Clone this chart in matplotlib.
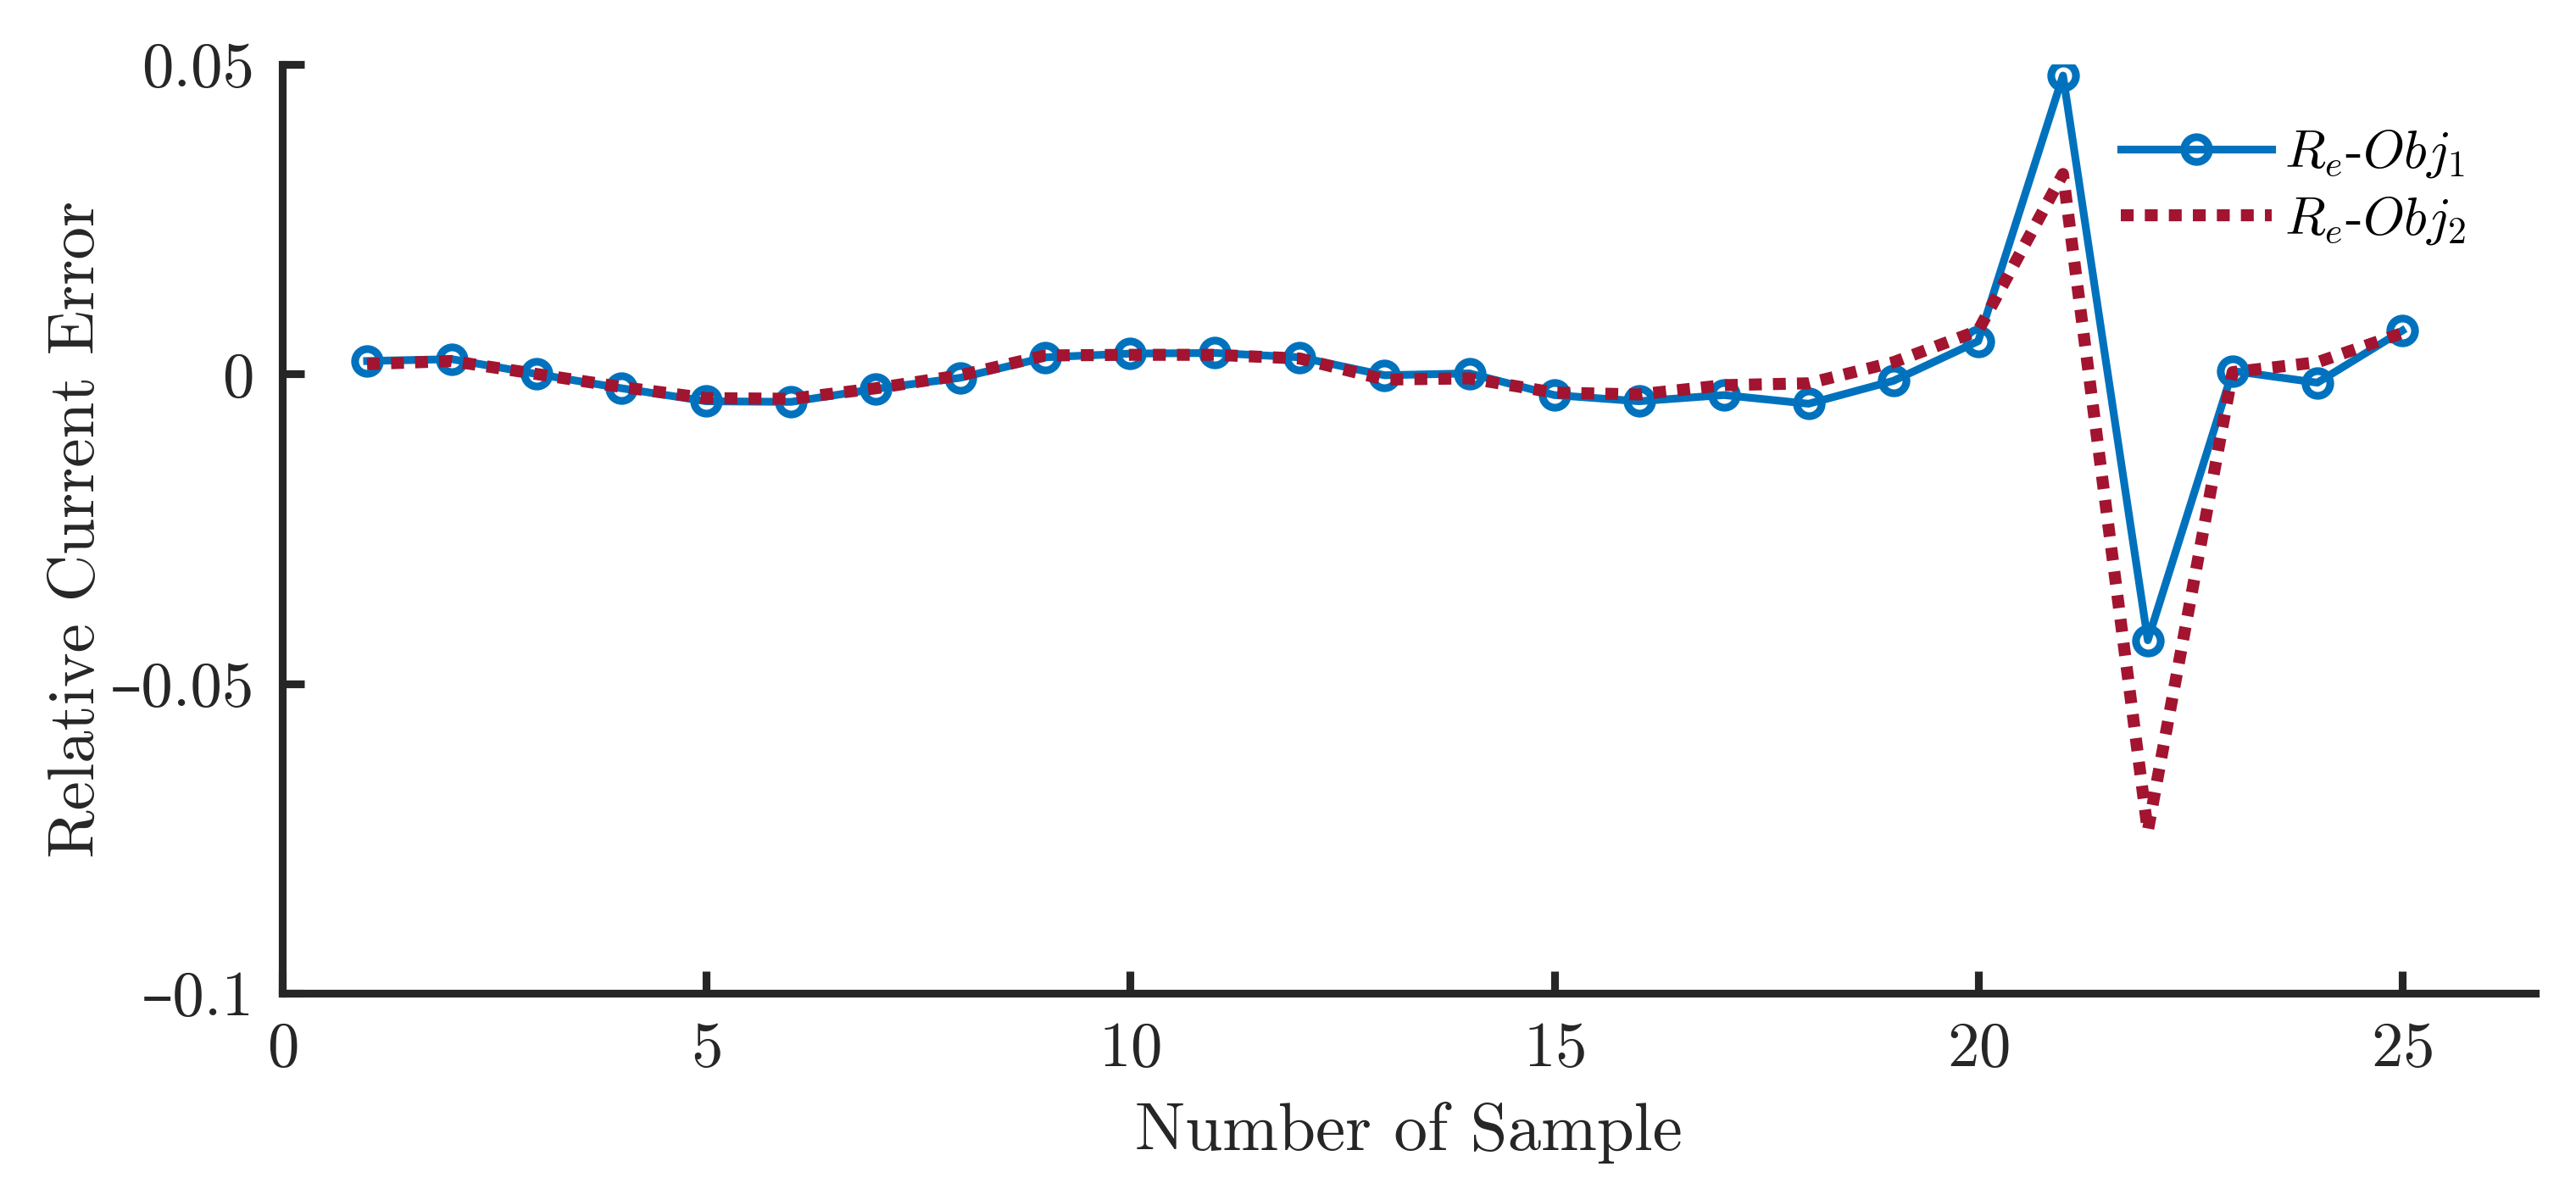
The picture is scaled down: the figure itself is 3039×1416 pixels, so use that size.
import numpy as np
import matplotlib
matplotlib.use("Agg")
import matplotlib.pyplot as plt

plt.rcParams['font.family'] = 'serif'
plt.rcParams['font.serif'] = ['cmr10']
plt.rcParams['mathtext.fontset'] = 'cm'
plt.rcParams['axes.formatter.use_mathtext'] = True

# datos
muestras = np.arange(1, 26)
obj1 = [0.0021, 0.0024, 0.0000, -0.0023, -0.0044, -0.0045, -0.0024, -0.0006, 0.0027, 0.0033,
        0.0034, 0.0027, -0.0002, 0.0001, -0.0034, -0.0044, -0.0034, -0.0048, -0.0011, 0.0053,
        0.0482, -0.0430, 0.0005, -0.0014, 0.0070]
obj2 = [0.0016, 0.0021, 0.0000, -0.0021, -0.0039, -0.0040, -0.0023, -0.0002, 0.0030, 0.0031,
        0.0031, 0.0025, -0.0009, -0.0007, -0.0030, -0.0033, -0.0018, -0.0015, 0.0019, 0.0070,
        0.0323, -0.0738, 0.0003, 0.0019, 0.0066]
etiquetas = [r'$R_e$-$Obj_1$', r'$R_e$-$Obj_2$']

yticks = [-0.1, -0.05, 0, 0.05]
ytick_labels = ['\u20130.1', '\u20130.05', '0', '0.05']
xticks = [0, 5, 10, 15, 20, 25]

azul = '#0072BD'
rojo = '#A2142F'
gris = '#262626'

fig = plt.figure(figsize=(3039 / 300, 1416 / 300), dpi=300)
ax = fig.add_axes([333 / 3039, 1 - 1172 / 1416, (2991 - 333) / 3039, (1172 - 76) / 1416])

ax.plot(muestras, obj1, color=azul, lw=2.2, marker='o', markersize=7,
        markerfacecolor='none', markeredgewidth=2.2, label=etiquetas[0])
ax.plot(muestras, obj2, color=rojo, lw=3.4, linestyle=(0, (1.07, 0.93)),
        dash_capstyle='butt', label=etiquetas[1])

ax.set_xlim(0, 26.57)
ax.set_ylim(-0.1, 0.05)
ax.set_xticks(xticks)
ax.set_xticklabels([f'${t}$' for t in xticks])
ax.set_yticks(yticks)
ax.set_yticklabels(ytick_labels, family=['cmr10', 'DejaVu Serif'])

for s in ['top', 'right']:
    ax.spines[s].set_visible(False)
for s in ['left', 'bottom']:
    ax.spines[s].set_linewidth(2.2)
    ax.spines[s].set_color(gris)
ax.tick_params(direction='in', length=6.2, width=2.2, color=gris,
               labelcolor=gris, labelsize=18, pad=8)

ax.set_xlabel('Number of Sample', fontsize=19, color=gris, labelpad=6.5)
ax.set_ylabel('Relative Current Error', fontsize=18.5, color=gris)
ax.yaxis.set_label_coords(-0.078, 0.5)

fig.legend(loc='upper left', bbox_to_anchor=(2446 / 3039, 1 - 95 / 1416), frameon=False,
           fontsize=15, handlelength=2.85, handletextpad=0.24, labelspacing=0.28)

fig.savefig('out.png', dpi=300)
